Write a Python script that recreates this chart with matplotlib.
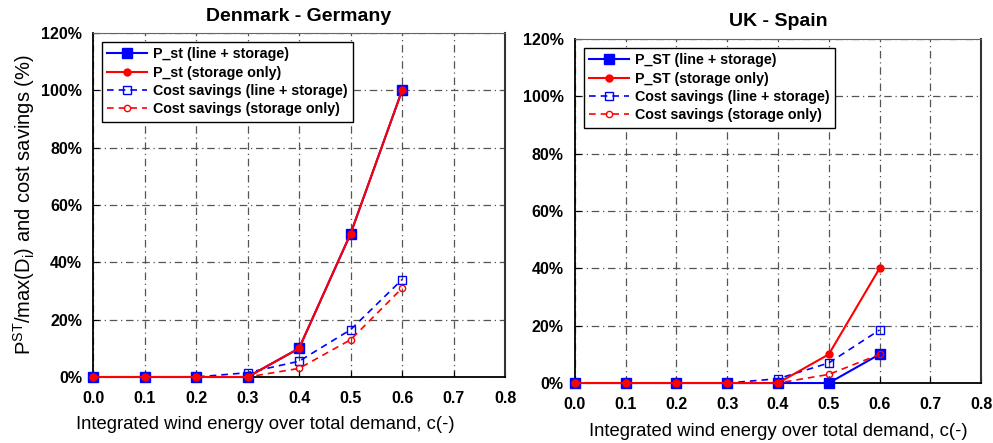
import matplotlib
matplotlib.use('Agg')
import matplotlib.pyplot as plt

plt.rcParams['font.family'] = ['Liberation Sans', 'DejaVu Sans']

c = [0.0, 0.1, 0.2, 0.3, 0.4, 0.5, 0.6]

# Denmark - Germany
dk_pst_line = [0, 0, 0, 0, 10, 50, 100]
dk_pst_stor = [0, 0, 0, 0, 10, 50, 100]
dk_cs_line = [0, 0, 0, 1.5, 5.5, 16.5, 34]
dk_cs_stor = [0, 0, 0, 0, 3, 13, 31]

# UK - Spain
uk_pst_line = [0, 0, 0, 0, 0, 0, 10]
uk_pst_stor = [0, 0, 0, 0, 0, 10, 40]
uk_cs_line = [0, 0, 0, 0, 1.5, 7, 18.5]
uk_cs_stor = [0, 0, 0, 0, 0, 3, 10]

yticks = [0, 20, 40, 60, 80, 100, 120]
xticks = [0.0, 0.1, 0.2, 0.3, 0.4, 0.5, 0.6, 0.7, 0.8]

fig = plt.figure(figsize=(9.93, 4.43), dpi=100)
ax1 = fig.add_axes([0.0937, 0.149, 0.415, 0.7765])
ax2 = fig.add_axes([0.579, 0.1354, 0.409, 0.7766])


def draw(ax, pl, ps, cl, cs, name, title):
    ax.plot(c, pl, '-', color='blue', marker='s', ms=7.5, lw=1.5, label=name + ' (line + storage)', zorder=3, clip_on=False)
    ax.plot(c, ps, '-', color='red', marker='o', ms=5, lw=1.5, label=name + ' (storage only)', zorder=4, clip_on=False)
    ax.plot(c, cl, '--', color='blue', marker='s', ms=6, mfc='none', lw=1.2, dashes=(4, 3),
            label='Cost savings (line + storage)', zorder=3, clip_on=False)
    ax.plot(c, cs, '--', color='red', marker='o', ms=4.5, mfc='none', lw=1.2, dashes=(4, 3),
            label='Cost savings (storage only)', zorder=3, clip_on=False)
    ax.set_xlim(0, 0.8)
    ax.set_ylim(0, 120)
    ax.set_xticks(xticks)
    ax.set_xticklabels(['%.1f' % v for v in xticks], fontweight='bold', fontsize=11.5)
    ax.set_yticks(yticks)
    ax.set_yticklabels(['%d%%' % v for v in yticks], fontweight='bold', fontsize=11.5)
    ax.grid(True, color='#555555', lw=0.9, dashes=(6, 3, 1, 3))
    ax.set_axisbelow(True)
    ax.tick_params(direction='in', length=4)
    ax.tick_params(axis='x', pad=10)
    ax.tick_params(axis='y', pad=8)
    ax.spines['left'].set_linewidth(1.3)
    ax.spines['bottom'].set_linewidth(1.3)
    ax.spines['top'].set_color('#666666')
    ax.spines['right'].set_color('#333333')
    ax.spines['right'].set_linewidth(1.5)
    ax.set_title(title, fontweight='bold', fontsize=14, pad=9)
    ax.set_xlabel('Integrated wind energy over total demand, c(-)', fontsize=13.3, labelpad=8)
    leg = ax.legend(loc='upper left', prop={'weight': 'bold', 'size': 10.3},
                    frameon=True, fancybox=False, edgecolor='black', framealpha=1,
                    borderaxespad=0.6, handlelength=2.8, handletextpad=0.4,
                    labelspacing=0.3, borderpad=0.4)
    leg.get_frame().set_linewidth(1.0)


draw(ax1, dk_pst_line, dk_pst_stor, dk_cs_line, dk_cs_stor, 'P_st', 'Denmark - Germany')
draw(ax2, uk_pst_line, uk_pst_stor, uk_cs_line, uk_cs_stor, 'P_ST', 'UK - Spain')

# left x label sits a bit left of centre in the original
ax1.xaxis.set_label_coords(0.417, -0.113)

ax1.set_ylabel('P$^{\\mathregular{ST}}$/max(D$_{\\mathregular{i}}$) and cost savings (%)', fontsize=14.5, labelpad=3)

fig.savefig('out.png', dpi=100)
